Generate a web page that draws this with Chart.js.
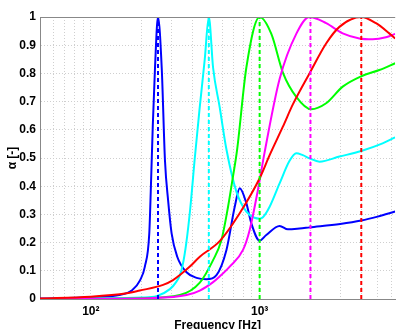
<!DOCTYPE html>
<html>
<head>
<meta charset="utf-8">
<script src="https://cdn.jsdelivr.net/npm/chart.js@4.4.1/dist/chart.umd.min.js"></script>
<style>
  html, body { margin: 0; padding: 0; background: #fff; }
  #wrap { width: 396px; height: 329px; position: relative; }
</style>
</head>
<body>
<div id="wrap"><canvas id="alphaChart"></canvas></div>
<script>
// curvas de absorción, una por frecuencia de resonancia
const blueFreq  = [50, 100, 150, 175, 196, 209, 222, 227, 233, 240, 250, 263, 275, 287, 301, 325, 369, 423, 484, 555, 636, 712, 762, 834, 893, 1000, 1095, 1313, 1470, 1723, 1974, 3000, 4000, 5000, 6350];
const blueAlpha = [0.002, 0.006, 0.015, 0.03, 0.067, 0.115, 0.233, 0.4, 0.62, 0.82, 1.0, 0.82, 0.49, 0.35, 0.233, 0.15, 0.095, 0.075, 0.07, 0.085, 0.174, 0.327, 0.393, 0.34, 0.268, 0.207, 0.227, 0.259, 0.247, 0.25, 0.254, 0.266, 0.278, 0.292, 0.31];

const cyanFreq  = [50, 100, 200, 245, 294, 320, 337, 350, 368, 388, 413, 440, 473, 500, 530, 580, 636, 729, 834, 934, 1000, 1046, 1146, 1313, 1504, 1648, 1802, 1974, 2262, 2969, 4000, 5350, 6350];
const cyanAlpha = [0.0, 0.002, 0.005, 0.01, 0.035, 0.06, 0.085, 0.12, 0.2, 0.32, 0.5, 0.67, 0.85, 1.0, 0.82, 0.68, 0.53, 0.38, 0.31, 0.288, 0.285, 0.29, 0.327, 0.41, 0.49, 0.517, 0.51, 0.499, 0.487, 0.505, 0.525, 0.552, 0.573];

const greenFreq  = [50, 100, 200, 337, 442, 530, 594, 650, 695, 735, 834, 1000, 1173, 1373, 1648, 2020, 2477, 3105, 4000, 5114, 6350];
const greenAlpha = [0.0, 0.001, 0.003, 0.014, 0.058, 0.138, 0.209, 0.327, 0.434, 0.528, 0.82, 1.0, 0.94, 0.803, 0.717, 0.673, 0.694, 0.753, 0.79, 0.812, 0.836];

const magentaFreq  = [50, 100, 224, 369, 442, 530, 580, 665, 797, 873, 977, 1070, 1313, 1648, 1974, 2477, 3105, 3897, 4670, 5602, 6350];
const magentaAlpha = [0.0, 0.001, 0.003, 0.014, 0.03, 0.06, 0.08, 0.115, 0.174, 0.245, 0.387, 0.52, 0.78, 0.94, 1.0, 0.978, 0.942, 0.924, 0.921, 0.928, 0.94];

const redFreq  = [50, 100, 163, 195, 268, 307, 337, 386, 442, 580, 762, 1000, 1146, 1373, 1573, 1974, 2477, 2969, 4000, 4890, 5861, 6350];
const redAlpha = [0.002, 0.008, 0.02, 0.03, 0.05, 0.067, 0.085, 0.115, 0.15, 0.205, 0.304, 0.428, 0.51, 0.611, 0.69, 0.8, 0.906, 0.965, 1.0, 0.978, 0.942, 0.924];

// líneas verticales discontinuas en cada resonancia
const peakFreqs  = [250, 500, 1000, 2000, 4000];
const peakColors = ['#0000ff', '#00ffff', '#00ff00', '#ff00ff', '#ff0000'];

const xTicks = [50, 60, 70, 80, 90, 100, 200, 300, 400, 500, 600, 700, 800, 900, 1000, 2000, 3000, 4000, 5000, 6000];
const xLabels = { 100: '10²', 1000: '10³' };

const toPoints = (fs, as) => fs.map((f, i) => ({ x: f, y: as[i] }));

const curve = (freq, alpha, color) => ({
  data: toPoints(freq, alpha),
  borderColor: color,
  borderWidth: 2,
  pointRadius: 0,
  fill: false,
  cubicInterpolationMode: 'monotone'
});

const dashed = peakFreqs.map((f, i) => ({
  data: [{ x: f, y: 0 }, { x: f, y: 1 }],
  borderColor: peakColors[i],
  borderWidth: 2,
  borderDash: [4, 3],
  pointRadius: 0,
  fill: false
}));

Chart.defaults.font.family = "'Liberation Sans', Arial, sans-serif";
Chart.defaults.font.weight = 'bold';
Chart.defaults.font.size = 12;
Chart.defaults.color = '#000';

// marco superior del área de dibujo
const topFrame = {
  id: 'topFrame',
  afterDraw(chart) {
    const { ctx, chartArea: a } = chart;
    ctx.save();
    ctx.strokeStyle = '#888';
    ctx.lineWidth = 1;
    ctx.beginPath();
    ctx.moveTo(a.left, a.top + 0.5);
    ctx.lineTo(a.right, a.top + 0.5);
    ctx.stroke();
    ctx.restore();
  }
};

new Chart(document.getElementById('alphaChart'), {
  type: 'line',
  data: {
    datasets: [
      ...dashed,
      curve(redFreq, redAlpha, '#ff0000'),
      curve(magentaFreq, magentaAlpha, '#ff00ff'),
      curve(greenFreq, greenAlpha, '#00ff00'),
      curve(cyanFreq, cyanAlpha, '#00ffff'),
      curve(blueFreq, blueAlpha, '#0000ff')
    ]
  },
  options: {
    responsive: true,
    maintainAspectRatio: false,
    animation: false,
    devicePixelRatio: 1,
    layout: { padding: { top: 17, right: 0, left: 0, bottom: 0 } },
    plugins: { legend: { display: false }, tooltip: { enabled: false } },
    scales: {
      x: {
        type: 'logarithmic',
        min: 50,
        max: 6350,
        afterBuildTicks: s => { s.ticks = xTicks.map(v => ({ value: v })); },
        afterFit: s => { s.height = 30; },
        grid: { color: '#cfcfcf', drawTicks: false },
        border: { color: '#888', dash: [1, 2] },
        ticks: {
          autoSkip: false,
          maxRotation: 0,
          padding: 5,
          callback: v => xLabels[v] || ''
        },
        title: {
          display: true,
          text: 'Frequency [Hz]',
          padding: { top: 0, bottom: -4 }
        }
      },
      y: {
        min: 0,
        max: 1,
        afterFit: s => { s.width = 40; },
        grid: { color: '#cfcfcf', drawTicks: false },
        border: { color: '#888', dash: [1, 2] },
        ticks: {
          stepSize: 0.1,
          padding: 4,
          callback: v => String(+v.toFixed(1))
        },
        title: {
          display: true,
          text: 'α [-]',
          padding: { top: 5, bottom: 0 }
        }
      }
    }
  },
  plugins: [topFrame]
});
</script>
</body>
</html>
